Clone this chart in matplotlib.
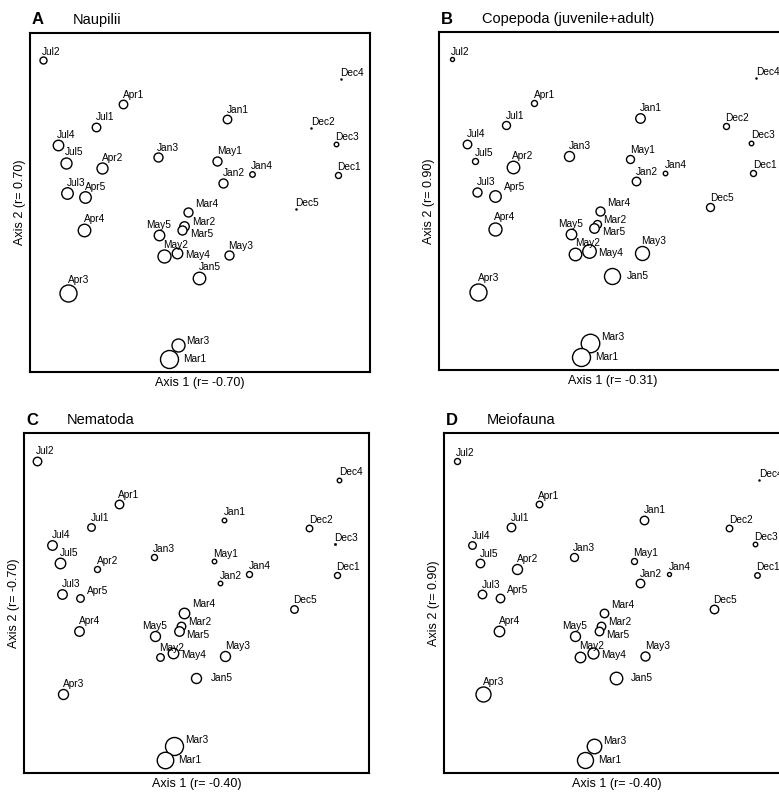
import matplotlib
matplotlib.use('Agg')
import matplotlib.pyplot as plt

plt.rcParams['font.family'] = ['Liberation Sans', 'DejaVu Sans']

# sample names and ordination scores (shared by all four panels)
names = ['Jul2', 'Dec4', 'Apr1', 'Jan1', 'Dec2', 'Jul1', 'Jul4', 'Dec3', 'Jan3', 'May1',
         'Jul5', 'Apr2', 'Jan4', 'Dec1', 'Jan2', 'Jul3', 'Apr5', 'Dec5', 'Mar4', 'Apr4',
         'Mar2', 'Mar5', 'May5', 'May2', 'May4', 'May3', 'Jan5', 'Apr3', 'Mar3', 'Mar1']
axis1 = [3.7, 91.4, 27.4, 58.0, 82.7, 19.4, 8.1, 90.0, 37.6, 55.1,
         10.5, 21.3, 65.2, 90.6, 56.9, 11.0, 16.2, 78.2, 46.4, 16.0,
         45.4, 44.8, 37.9, 39.3, 43.1, 58.4, 49.8, 11.3, 43.4, 40.9]
axis2 = [91.9, 86.3, 79.1, 74.5, 72.1, 72.4, 67.0, 67.3, 63.4, 62.3,
         61.7, 60.1, 58.4, 58.2, 55.8, 52.7, 51.5, 48.2, 47.1, 41.8,
         43.2, 41.9, 40.3, 34.2, 35.2, 34.5, 27.8, 23.2, 7.9, 3.7]

# relative density scores (bubble size) per group
dens_nauplii = [7, 2, 8.5, 8.5, 2, 8.5, 10.5, 4.5, 9, 9,
                11, 11, 5.5, 6, 9, 11.5, 11.5, 2, 9, 12.5,
                9.5, 9, 10.5, 13, 10.5, 9, 12.5, 17, 13, 18]
dens_copepoda = [4, 2, 6, 9.5, 6, 8, 8.5, 4.5, 10, 8,
                 6, 12.5, 4.5, 6, 8.5, 9, 11.5, 8, 9, 13,
                 8, 9.5, 10.5, 12.5, 13.5, 14, 16, 17, 18.5, 18]
dens_nematoda = [8.5, 4.5, 8.5, 4.5, 6.5, 7.5, 9.5, 2.5, 6, 4.5,
                 10.5, 6, 6, 6, 4.5, 9.5, 7.5, 7.5, 10.5, 9.5,
                 8.5, 9.5, 10, 7.5, 10.5, 10, 10, 10, 18, 16.5]
dens_meiofauna = [6, 2, 6.5, 8.5, 6.5, 8.5, 7.5, 4.5, 8, 6,
                  8.5, 10, 4, 5.5, 8.5, 8.5, 8.5, 8.5, 8.5, 10.5,
                  8.5, 8.5, 10, 10.5, 11, 9, 12.5, 15, 14.5, 16]

letters = ['A', 'B', 'C', 'D']
titles = ['Naupilii', 'Copepoda (juvenile+adult)', 'Nematoda', 'Meiofauna']
xlabels = ['Axis 1 (r= -0.70)', 'Axis 1 (r= -0.31)', 'Axis 1 (r= -0.40)', 'Axis 1 (r= -0.40)']
ylabels = ['Axis 2 (r= 0.70)', 'Axis 2 (r= 0.90)', 'Axis 2 (r= -0.70)', 'Axis 2 (r= 0.90)']
densities = [dens_nauplii, dens_copepoda, dens_nematoda, dens_meiofauna]

W, H = 779, 798
PX = 72 / 100  # points per pixel
fig = plt.figure(figsize=(W / 100, H / 100), dpi=100)

# axes frames in pixels: left, top, right, bottom
rects = [(30, 33, 370, 372), (439, 32, 786, 370), (24, 433, 369, 773), (444, 433, 789, 773)]

# where each label sits relative to its circle
label_kind = {'Mar4': 'upr', 'Mar2': 'rhi', 'Mar5': 'rlo', 'May5': 'upc',
              'May4': 'rdown', 'Mar3': 'rup', 'Mar1': 'right'}


def offset(kind, r):
    if kind == 'upc':
        return 0, r + 2, 'center', 'baseline'
    if kind == 'upr':
        return r + 3, r + 3.5, 'left', 'center'
    if kind == 'rup':
        return r + 2.5, r * 0.7, 'left', 'center'
    if kind == 'right':
        return r + 5, 0, 'left', 'center'
    if kind == 'rfar':
        return 15, 0, 'left', 'center'
    if kind == 'rhi':
        return r + 3, 4, 'left', 'center'
    if kind == 'rlo':
        return r + 3, -4, 'left', 'center'
    if kind == 'rdown':
        return r + 3, -2, 'left', 'center'
    return -0.5, r + 2, 'left', 'baseline'


for i in range(4):
    l, t, r, b = rects[i]
    ax = fig.add_axes([l / W, 1 - b / H, (r - l) / W, (b - t) / H])
    ax.set_xlim(0, 100)
    ax.set_ylim(0, 100)
    ax.set_xticks([])
    ax.set_yticks([])
    for sp in ax.spines.values():
        sp.set_linewidth(1.5)

    kinds = dict(label_kind)
    if i == 0:
        kinds['Apr5'] = 'up'
    else:
        kinds['Apr5'] = 'upr'
        kinds['Jan5'] = 'rfar'

    for name, x, y, d in zip(names, axis1, axis2, densities[i]):
        if d <= 2.5:
            ax.plot(x, y, 'o', ms=d * PX, mfc='black', mec='black', mew=0.3)
        else:
            ax.plot(x, y, 'o', ms=d * PX, mfc='white', mec='black', mew=1.0)
        dx, dy, ha, va = offset(kinds.get(name, 'up'), d / 2)
        ax.annotate(name, (x, y), xytext=(dx * PX, dy * PX), textcoords='offset points',
                    ha=ha, va=va, fontsize=7.3)

    ax.annotate(letters[i], (0, 1), xycoords='axes fraction', xytext=(2 * PX, 13 * PX),
                textcoords='offset points', ha='left', va='center', fontsize=12, fontweight='bold')
    ax.annotate(titles[i], (0, 1), xycoords='axes fraction', xytext=(43 * PX, 13 * PX),
                textcoords='offset points', ha='left', va='center', fontsize=10.5)
    ax.annotate(xlabels[i], (0.5, 0), xycoords='axes fraction', xytext=(0, -11 * PX),
                textcoords='offset points', ha='center', va='center', fontsize=9)
    ax.annotate(ylabels[i], (0, 0.5), xycoords='axes fraction', xytext=(-10 * PX, 0),
                textcoords='offset points', ha='center', va='center', fontsize=9, rotation=90)

fig.savefig('out.png', dpi=100)
